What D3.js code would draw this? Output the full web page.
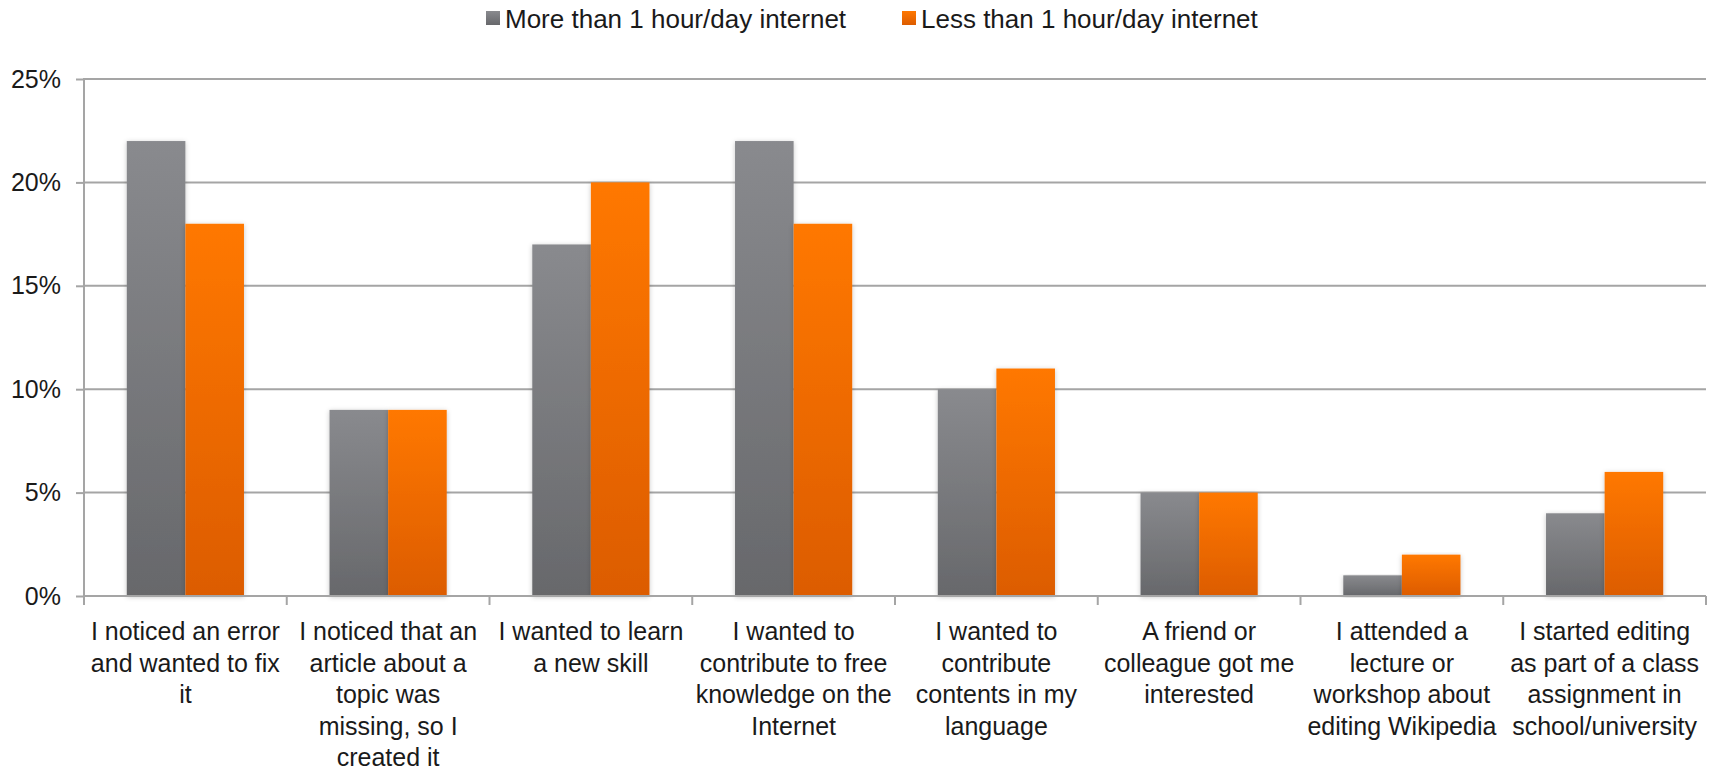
<!DOCTYPE html>
<html>
<head>
<meta charset="utf-8">
<script src="https://cdn.jsdelivr.net/npm/d3@7"></script>
<style>
  html, body { margin: 0; padding: 0; background: #fff; }
  svg { display: block; font-family: "Liberation Sans", Arial, sans-serif; }
</style>
</head>
<body>
<svg id="chart" width="1721" height="770"></svg>
<script>
const categories = [
  ["I noticed an error", "and wanted to fix", "it"],
  ["I noticed that an", "article about a", "topic was", "missing, so I", "created it"],
  ["I wanted to learn", "a new skill"],
  ["I wanted to", "contribute to free", "knowledge on the", "Internet"],
  ["I wanted to", "contribute", "contents in my", "language"],
  ["A friend or", "colleague got me", "interested"],
  ["I attended a", "lecture or", "workshop about", "editing Wikipedia"],
  ["I started editing", "as part of a class", "assignment in", "school/university"]
];
const seriesNames = ["More than 1 hour/day internet", "Less than 1 hour/day internet"];
const moreThan1h = [22, 9, 17, 22, 10, 5, 1, 4];
const lessThan1h = [18, 9, 20, 18, 11, 5, 2, 6];
const yTicks = [0, 5, 10, 15, 20, 25];

const svg = d3.select("#chart");
const plotLeft = 84, plotRight = 1706, plotTop = 79, plotBottom = 596;

const catIdx = categories.map((c, i) => i);
const x0 = d3.scaleBand().domain(catIdx).range([plotLeft, plotRight]).paddingInner(0).paddingOuter(0);
const x1 = d3.scaleBand().domain([0, 1]).range([0, x0.bandwidth()]).paddingInner(0).paddingOuter(0.73);
const y = d3.scaleLinear().domain([0, 25]).range([plotBottom, plotTop]);

const defs = svg.append("defs");
function grad(id, c1, c2) {
  const g = defs.append("linearGradient").attr("id", id).attr("x1", 0).attr("y1", 0).attr("x2", 0).attr("y2", 1);
  g.append("stop").attr("offset", "0%").attr("stop-color", c1);
  g.append("stop").attr("offset", "100%").attr("stop-color", c2);
}
grad("gGray", "#898a8e", "#67686b");
grad("gOrange", "#ff7800", "#dc5c00");
const f = defs.append("filter").attr("id", "shadow").attr("x", "-20%").attr("y", "-5%").attr("width", "140%").attr("height", "110%");
f.append("feDropShadow").attr("dx", 0).attr("dy", 1).attr("stdDeviation", 2.5).attr("flood-color", "#000").attr("flood-opacity", 0.22);

// gridlines
svg.append("g").selectAll("line").data(yTicks.filter(t => t > 0)).join("line")
  .attr("x1", plotLeft).attr("x2", plotRight)
  .attr("y1", d => y(d)).attr("y2", d => y(d))
  .attr("stroke", "#a5a5a5").attr("stroke-width", 2);

// y axis
const yAxis = d3.axisLeft(y).tickValues(yTicks).tickFormat(d => d + "%").tickSize(8).tickPadding(15);
const gy = svg.append("g").attr("transform", `translate(${plotLeft},0)`).call(yAxis);
gy.select(".domain").attr("stroke", "#a5a5a5").attr("stroke-width", 2).attr("d", `M0,${plotTop - 1}V${plotBottom + 8}`);
gy.selectAll(".tick line").attr("stroke", "#a5a5a5").attr("stroke-width", 2);
gy.selectAll(".tick text").attr("font-size", 25).attr("fill", "#1a1a1a")
  .attr("font-family", "'Liberation Sans', Arial, sans-serif");

// bars
const series = [moreThan1h, lessThan1h];
const fills = ["url(#gGray)", "url(#gOrange)"];
const gBars = svg.append("g");
series.forEach((vals, s) => {
  gBars.append("g").selectAll("rect").data(vals).join("rect")
    .attr("x", (d, i) => x0(i) + x1(s))
    .attr("y", d => y(d))
    .attr("width", x1.bandwidth())
    .attr("height", d => y(0) - y(d))
    .attr("fill", fills[s])
    .attr("filter", "url(#shadow)");
});

// x axis
const xAxis = d3.axisBottom(x0).tickSize(0).tickFormat("");
const gx = svg.append("g").attr("transform", `translate(0,${plotBottom})`).call(xAxis);
gx.select(".domain").remove();
gx.append("line").attr("x1", plotLeft).attr("x2", plotRight).attr("y1", 0).attr("y2", 0)
  .attr("stroke", "#a5a5a5").attr("stroke-width", 2);
gx.selectAll("line.sep").data(d3.range(categories.length + 1)).join("line").attr("class", "sep")
  .attr("x1", d => plotLeft + d * x0.step()).attr("x2", d => plotLeft + d * x0.step())
  .attr("y1", 0).attr("y2", 9).attr("stroke", "#a5a5a5").attr("stroke-width", 2);

const labels = svg.append("g").attr("font-size", 25).attr("fill", "#1a1a1a").attr("text-anchor", "middle");
categories.forEach((lines, i) => {
  const cx = x0(i) + x0.bandwidth() / 2;
  const t = labels.append("text").attr("x", cx).attr("y", 640);
  lines.forEach((ln, k) => {
    t.append("tspan").attr("x", cx).attr("y", 640 + k * 31.5).text(ln);
  });
});

// legend
const legend = svg.append("g");
const legendX = [486, 902];
seriesNames.forEach((name, s) => {
  const g = legend.append("g").attr("transform", `translate(${legendX[s]},0)`);
  g.append("rect").attr("x", 0).attr("y", 11).attr("width", 14).attr("height", 14).attr("fill", fills[s]);
  g.append("text").attr("x", 19).attr("y", 28).attr("font-size", 26).attr("fill", "#1a1a1a").text(name);
});
</script>
</body>
</html>
